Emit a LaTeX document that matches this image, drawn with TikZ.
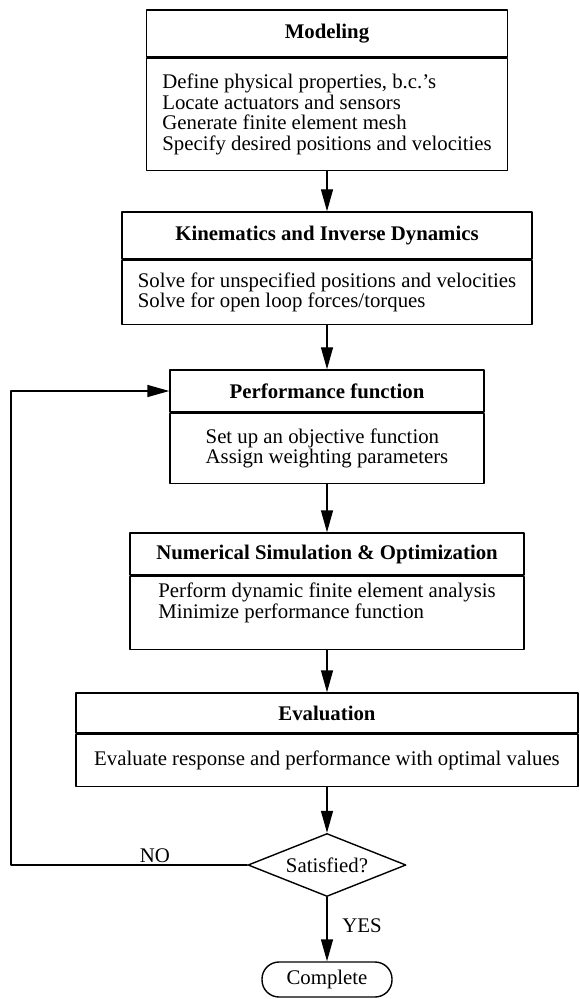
\documentclass[tikz,border=0pt]{standalone}
\usepackage{fontspec}
\setmainfont{Liberation Serif}
\usetikzlibrary{arrows.meta,positioning,shapes.geometric}

\tikzset{
  txt/.style={font=\fontsize{10.4}{10.4}\selectfont},
  head/.style={draw,line width=0.7pt,inner sep=0pt,font=\fontsize{10.4}{10.4}\selectfont\bfseries},
  body/.style={draw,line width=0.7pt,inner sep=3pt,align=left,txt},
  link/.style={->,line width=0.7pt},
}

\begin{document}
\begin{tikzpicture}[line cap=round,line join=round,>={Triangle[length=11pt,width=6pt]},x=0.5pt,y=-0.5pt]
  \useasboundingbox (0,0) rectangle (579,999);
  % steps
  \node[head,minimum width=180.5pt,minimum height=23.5pt] (model) at (327,33.5) {Modeling};
  \node[body,minimum width=180.5pt,minimum height=56pt,below=0pt of model] (model-b) {Define physical properties, b.c.'s\\Locate actuators and sensors\\Generate finite element mesh\\Specify desired positions and velocities};
  \node[head,minimum width=205pt,minimum height=23.5pt] (kin) at (327,235.5) {Kinematics and Inverse Dynamics};
  \node[body,minimum width=205pt,minimum height=32pt,below=0pt of kin] (kin-b) {Solve for unspecified positions and velocities\\Solve for open loop forces/torques};
  \node[head,minimum width=157pt,minimum height=21pt] (perf) at (327,391) {Performance function};
  \node[body,minimum width=157pt,minimum height=35pt,below=0pt of perf] (perf-b) {Set up an objective function\\Assign weighting parameters};
  \node[head,minimum width=197pt,minimum height=21pt] (num) at (327,554) {Numerical Simulation \& Optimization};
  \node[body,minimum width=197pt,minimum height=36.5pt,text depth=12pt,below=0pt of num] (num-b) {Perform dynamic finite element analysis\\Minimize performance function};
  \node[head,minimum width=251pt,minimum height=20pt] (eval) at (327,713) {Evaluation};
  \node[body,minimum width=251pt,minimum height=26pt,below=0pt of eval] (eval-b) {Evaluate response and performance with optimal values};
  \node[draw,line width=0.7pt,diamond,aspect=2.5,inner sep=0pt,minimum width=79pt,minimum height=31.5pt,txt] (sat) at (327,865) {Satisfied?};
  \node[draw,line width=0.7pt,rounded corners=8.5pt,inner sep=0pt,minimum width=65pt,minimum height=17.5pt,txt] (done) at (327,979.5) {Complete};
  \coordinate (back) at (11,0);
  % flow
  \draw[link] (model-b) -- (kin);
  \draw[link] (kin-b) -- (perf);
  \draw[link] (perf-b) -- (num);
  \draw[link] (num-b) -- (eval);
  \draw[link] (eval-b) -- (sat);
  \draw[link] (sat) -- (done);
  \draw[link] (sat.west) -- (sat.west -| back) |- (perf.west);
  \node[txt] (no) at (155,856) {NO};
  \node[txt] (yes) at (362,926) {YES};
\end{tikzpicture}
\end{document}
